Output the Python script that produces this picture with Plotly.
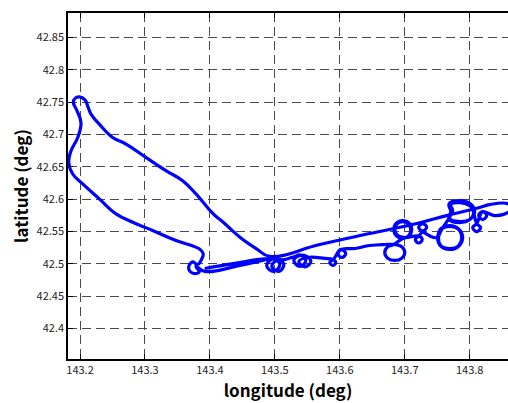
import plotly.graph_objects as go

# Track (longitude, latitude in degrees), in drawing order
lon = [
    143.392, 143.4385, 143.4846,
    143.500, 143.5077, 143.4985, 143.4877, 143.4923, 143.5031, 143.5138, 143.5062, 143.4954, 143.5031, 143.5154,
    143.5308, 143.5385, 143.5477, 143.5385, 143.5292, 143.5385, 143.5477, 143.5554, 143.5462, 143.5369, 143.5508,
    143.5769, 143.5892, 143.5938, 143.5892, 143.5846, 143.5908,
    143.6015, 143.6092, 143.6031, 143.5969, 143.6031,
    143.6231, 143.6462, 143.6692,
    143.6846, 143.6954, 143.700, 143.6954, 143.6846, 143.6738, 143.6692, 143.6738, 143.6815,
    143.6969, 143.7068, 143.7108, 143.7068, 143.6969, 143.6871, 143.6831, 143.6871, 143.6969,
    143.7062, 143.7092, 143.7062, 143.6969, 143.6877, 143.6846, 143.6892, 143.700,
    143.7215, 143.7269, 143.7215, 143.7162, 143.7215,
    143.7277, 143.7338, 143.7277, 143.7215, 143.7277,
    143.7492, 143.7551, 143.7692, 143.7834, 143.7892, 143.7834, 143.7692, 143.7551,
    143.7508, 143.7554, 143.7692, 143.7831, 143.7877, 143.7831, 143.7692, 143.7554, 143.7523,
    143.7723, 143.7683, 143.7846, 143.8009, 143.8077, 143.8009, 143.7846, 143.7683,
    143.7708, 143.7683, 143.7846, 143.8009, 143.8062, 143.8000, 143.7846, 143.7692,
    143.7738, 143.7708, 143.7846, 143.8000, 143.8046,
    143.8108, 143.8169, 143.8108, 143.8046, 143.8108,
    143.8200, 143.8262, 143.8200, 143.8138, 143.8200,
    143.8385, 143.8585, 143.8646, 143.8585,
    143.8308, 143.8154, 143.7646, 143.7185, 143.6462, 143.5692, 143.4923,
    143.4718, 143.4462, 143.4205, 143.4051, 143.3785, 143.3580, 143.3323, 143.3015, 143.2708, 143.2503,
    143.2297, 143.2169, 143.2123, 143.2077, 143.1989, 143.1923, 143.1897, 143.1954, 143.2015, 143.1965,
    143.1862, 143.1826, 143.1888, 143.2042, 143.2297, 143.2554, 143.2811, 143.3118, 143.3477, 143.3835,
    143.3897, 143.3862, 143.3811,
    143.3734, 143.3672, 143.3734, 143.3835, 143.3785,
    143.3923, 143.4462, 143.500,
]
lat = [
    42.4927, 42.5005, 42.5074,
    42.5066, 42.4989, 42.4881, 42.4958, 42.5051, 42.5082, 42.4989, 42.4881, 42.4958, 42.5051, 42.5066,
    42.5113, 42.5136, 42.5051, 42.4958, 42.5051, 42.5128, 42.5120, 42.5035, 42.4951, 42.5035, 42.5097,
    42.5082, 42.5066, 42.5020, 42.4974, 42.5020, 42.5074,
    42.5221, 42.5159, 42.5097, 42.5159, 42.5221,
    42.5236, 42.5282, 42.5298,
    42.5298, 42.5262, 42.5174, 42.5086, 42.5051, 42.5086, 42.5174, 42.5262, 42.5290,
    42.5390, 42.5431, 42.5529, 42.5628, 42.5668, 42.5628, 42.5529, 42.5431, 42.5390,
    42.5437, 42.5514, 42.5614, 42.5653, 42.5614, 42.5529, 42.5437, 42.5406,
    42.5429, 42.5375, 42.5321, 42.5375, 42.5429,
    42.5498, 42.5560, 42.5622, 42.5560, 42.5498,
    42.5406, 42.5537, 42.5591, 42.5537, 42.5406, 42.5275, 42.5221, 42.5275,
    42.5406, 42.5529, 42.5576, 42.5529, 42.5421, 42.5282, 42.5236, 42.5282, 42.5421,
    42.5807, 42.5927, 42.5977, 42.5927, 42.5807, 42.5687, 42.5637, 42.5687,
    42.5807, 42.5922, 42.5961, 42.5915, 42.5792, 42.5684, 42.5653, 42.5699,
    42.5822, 42.5915, 42.5946, 42.5900, 42.5838,
    42.5622, 42.5560, 42.5498, 42.5560, 42.5622,
    42.5807, 42.5745, 42.5684, 42.5745, 42.5807,
    42.5745, 42.5792, 42.5869, 42.5930,
    42.5915, 42.5869, 42.5745, 42.5622, 42.5467, 42.5298, 42.5113,
    42.5231, 42.5410, 42.5642, 42.5772, 42.6080, 42.6285, 42.6440, 42.6645, 42.6852, 42.6954,
    42.7160, 42.7315, 42.7427, 42.7535, 42.7582, 42.7559, 42.7497, 42.7366, 42.7181, 42.6954,
    42.6749, 42.6568, 42.6389, 42.6235, 42.6003, 42.5772, 42.5642, 42.5514, 42.5360, 42.5231,
    42.5154, 42.5051, 42.4989,
    42.5028, 42.4943, 42.4855, 42.4870, 42.4958,
    42.4881, 42.4974, 42.5097,
]

x_ticks = [143.2, 143.3, 143.4, 143.5, 143.6, 143.7, 143.8]
y_ticks = [42.4, 42.45, 42.5, 42.55, 42.6, 42.65, 42.7, 42.75, 42.8, 42.85]
x_range = [143.1815, 143.859]
y_range = [42.3526, 42.888]

font = "Noto Sans CJK JP"

fig = go.Figure(go.Scatter(
    x=lon, y=lat, mode="lines",
    line=dict(color="#0000ff", width=3.2, shape="spline", smoothing=1.2),
    hoverinfo="skip", showlegend=False,
))

axis_common = dict(
    showgrid=True, gridcolor="#4a4a4a", gridwidth=1, griddash="9px,5px",
    zeroline=False, showline=True, linecolor="black", linewidth=1.5,
    ticks="inside", ticklen=5, tickcolor="black",
    tickfont=dict(family=font, size=11, color="#222"),
)

fig.update_layout(
    width=508, height=403,
    margin=dict(l=68, r=0, t=13, b=44),
    paper_bgcolor="white", plot_bgcolor="white",
    xaxis=dict(
        range=x_range, tickvals=x_ticks, ticktext=[f"{v:.1f}" for v in x_ticks],
        mirror="ticks",
        title=dict(text="longitude (deg)", font=dict(family=font, size=17, color="black", weight="bold"), standoff=6),
        **axis_common,
    ),
    yaxis=dict(
        range=y_range, tickvals=y_ticks, ticktext=[f"{v:g}" for v in y_ticks],
        mirror=False,
        title=dict(text="latitude (deg)", font=dict(family=font, size=17, color="black", weight="bold"), standoff=4),
        **axis_common,
    ),
)

fig.write_html("out.html")
